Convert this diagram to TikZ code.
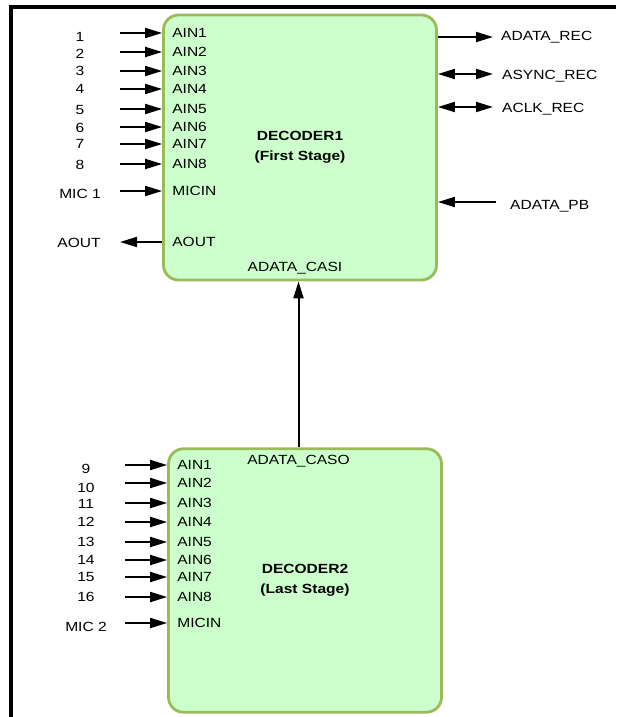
\documentclass[tikz,border=0pt]{standalone}
\usepackage{fontspec}
\setmainfont[FakeStretch=1.17]{Liberation Sans}
\usepackage{xcolor}
\definecolor{decfill}{RGB}{204, 255, 204}
\definecolor{decborder}{RGB}{155, 187, 89}
\usetikzlibrary{arrows.meta, positioning, calc}

\begin{document}
\begin{tikzpicture}[x=1pt, y=-1pt, >={Triangle[length=17pt, width=10pt]}]

        % Estilos dos blocos e dos sinais
        \tikzstyle{decoder} = [rectangle, draw=decborder, fill=decfill, line width=2.8pt, rounded corners=15pt, minimum width=273pt, minimum height=265pt, align=center, font=\fontsize{13.3}{20}\selectfont\bfseries]
        \tikzstyle{lbl} = [inner sep=0pt, font=\fontsize{13.3}{15}\selectfont, text height=9.5pt, text depth=0pt]
        \tikzstyle{sig} = [line width=2pt]

        \useasboundingbox (0,0) rectangle (616,717);

        % Moldura
        \draw [line width=3.2pt] (11,717) -- (11,7) -- (616,7);

        % Decodificadores
        \node [decoder] (dec1) at (300,147.5) {DECODER1\\(First Stage)};
        \node [decoder, below=166pt of dec1, xshift=5pt, minimum height=263.4pt] (dec2) {DECODER2\\(Last Stage)};

        \node [lbl, above=9.6pt of dec1.south, xshift=-5pt] (casi) {ADATA\_CASI};
        \node [lbl, below=7.6pt of dec2.north, xshift=-6.5pt] (caso) {ADATA\_CASO};

        % ---------------------------------------------------------
        % Entradas do DECODER1
        % ---------------------------------------------------------
        \foreach \y/\ly/\lab/\pin [count=\i] in {33/37/1/AIN1, 52/54/2/AIN2, 71/71/3/AIN3, 89/89/4/AIN4, 109/110/5/AIN5, 127/128/6/AIN6, 144/144/7/AIN7, 164/165/8/AIN8, 191/194/MIC 1/MICIN} {
            \coordinate (a\i) at (120,\y);
            \node [lbl] (la\i) at (80,\ly) {\lab};
            \node [lbl, anchor=west] (pa\i) at ([xshift=10pt]a\i -| dec1.west) {\pin};
            \draw [sig, ->] (a\i) -- (a\i -| dec1.west);
        }

        % Saida AOUT
        \coordinate (aout) at (120,242);
        \node [lbl] (laout) at (79,243) {AOUT};
        \node [lbl, anchor=west] (paout) at ([xshift=10pt]aout -| dec1.west) {AOUT};
        \draw [sig, ->] (aout -| dec1.west) -- (aout);

        % Sinais do lado direito
        \coordinate (rec) at (493,37);
        \coordinate (sync) at (493,74);
        \coordinate (clk) at (493,107);
        \coordinate (pb) at (496,202);
        \node [lbl, anchor=west] (lrec) at (501,36) {ADATA\_REC};
        \node [lbl, anchor=west] (lsync) at (502,75) {ASYNC\_REC};
        \node [lbl, anchor=west] (lclk) at (502,108) {ACLK\_REC};
        \node [lbl, anchor=west] (lpb) at (510,205) {ADATA\_PB};
        \draw [sig, ->] (rec -| dec1.east) -- (rec);
        \draw [sig, <->] (sync -| dec1.east) -- (sync);
        \draw [sig, <->] (clk -| dec1.east) -- (clk);
        \draw [sig, ->] (pb) -- (pb -| dec1.east);

        % ---------------------------------------------------------
        % Entradas do DECODER2
        % ---------------------------------------------------------
        \foreach \y/\ly/\lab/\pin [count=\i] in {465/469/9/AIN1, 483/488/10/AIN2, 503/504/11/AIN3, 522/522/12/AIN4, 542/542/13/AIN5, 560/560/14/AIN6, 577/577/15/AIN7, 597/597/16/AIN8, 623/627/MIC 2/MICIN} {
            \coordinate (b\i) at (125,\y);
            \node [lbl] (lb\i) at (86,\ly) {\lab};
            \node [lbl, anchor=west] (pb\i) at ([xshift=10pt]b\i -| dec2.west) {\pin};
            \draw [sig, ->] (b\i) -- (b\i -| dec2.west);
        }

        % Cascata CASO -> CASI
        \draw [sig, ->] (caso |- dec2.north) -- (caso |- dec1.south);

\end{tikzpicture}
\end{document}
